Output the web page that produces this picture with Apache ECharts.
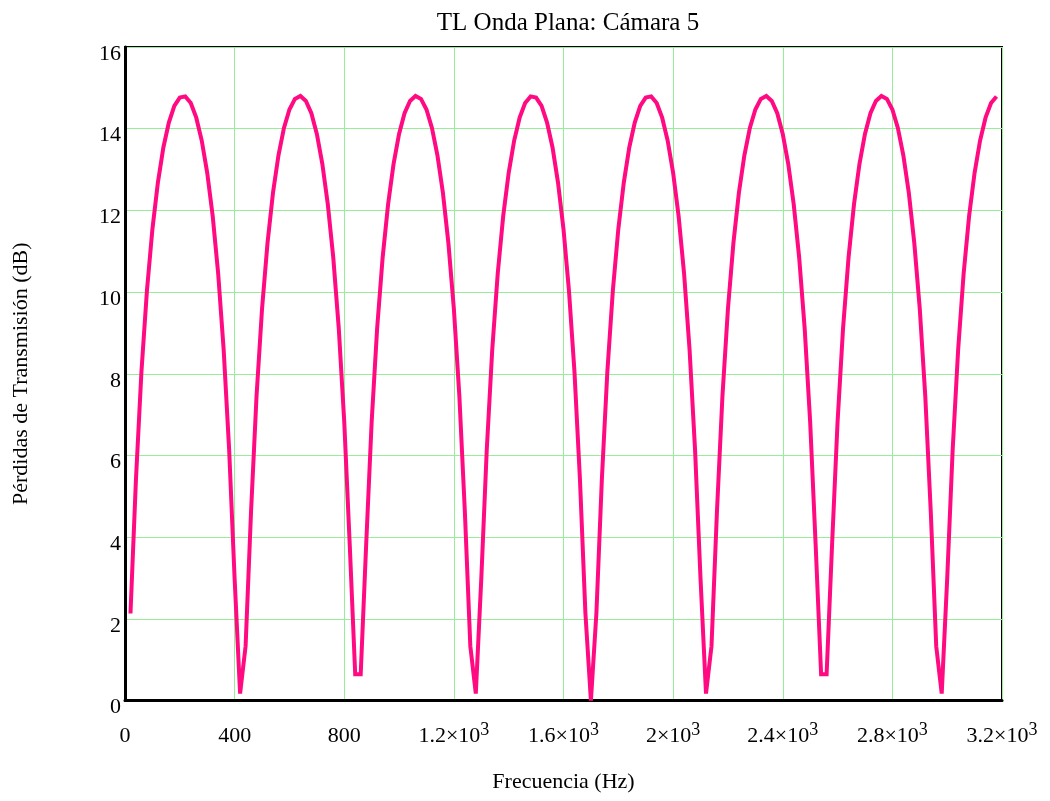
<!DOCTYPE html>
<html><head><meta charset="utf-8">
<script src="https://cdn.jsdelivr.net/npm/echarts@6/dist/echarts.min.js"></script>
<style>html,body{margin:0;padding:0;background:#fff}#c{width:1050px;height:801px}</style>
</head><body><div id="c"></div>
<script>
const chartTitle = 'TL Onda Plana: Cámara 5';
const xName = 'Frecuencia (Hz)';
const yName = 'Pérdidas de Transmisión (dB)';
const xTicks = [0, 400, 800, 1200, 1600, 2000, 2400, 2800, 3200];
const yTicks = [0, 2, 4, 6, 8, 10, 12, 14, 16];
const freqs = [
  20,40,60,80,100,120,140,160,180,200,220,240,260,280,300,320,340,360,380,400,420,
  440,460,480,500,520,540,560,580,600,620,640,660,680,700,720,740,760,780,800,820,840,
  860,880,900,920,940,960,980,1000,1020,1040,1060,1080,1100,1120,1140,1160,1180,1200,1220,1240,1260,
  1280,1300,1320,1340,1360,1380,1400,1420,1440,1460,1480,1500,1520,1540,1560,1580,1600,1620,1640,1660,1680,1700,
  1720,1740,1760,1780,1800,1820,1840,1860,1880,1900,1920,1940,1960,1980,2000,2020,2040,2060,2080,2100,2120,
  2140,2160,2180,2200,2220,2240,2260,2280,2300,2320,2340,2360,2380,2400,2420,2440,2460,2480,2500,2520,2540,
  2560,2580,2600,2620,2640,2660,2680,2700,2720,2740,2760,2780,2800,2820,2840,2860,2880,2900,2920,2940,2960,
  2980,3000,3020,3040,3060,3080,3100,3120,3140,3160,3180
];
const tl = [
  2.13,5.42,8.05,10.03,11.54,12.68,13.54,14.15,14.56,14.76,14.79,14.63,14.27,13.71,12.92,11.86,10.45,8.59,6.14,2.98,0.17,
  1.33,4.64,7.46,9.59,11.20,12.43,13.35,14.02,14.47,14.73,14.80,14.68,14.38,13.87,13.14,12.15,10.84,9.11,6.82,3.82,0.64,
  0.64,3.82,6.82,9.11,10.84,12.15,13.14,13.87,14.38,14.68,14.80,14.73,14.47,14.02,13.35,12.43,11.20,9.59,7.46,4.64,1.33,
  0.17,2.98,6.14,8.59,10.45,11.86,12.92,13.71,14.27,14.63,14.79,14.76,14.56,14.15,13.54,12.68,11.54,10.03,8.05,5.42,2.13,0.00,
  2.13,5.42,8.05,10.03,11.54,12.68,13.54,14.15,14.56,14.76,14.79,14.63,14.27,13.71,12.92,11.86,10.45,8.59,6.14,2.98,0.17,
  1.33,4.64,7.46,9.59,11.20,12.43,13.35,14.02,14.47,14.73,14.80,14.68,14.38,13.87,13.14,12.15,10.84,9.11,6.82,3.82,0.64,
  0.64,3.82,6.82,9.11,10.84,12.15,13.14,13.87,14.38,14.68,14.80,14.73,14.47,14.02,13.35,12.43,11.20,9.59,7.46,4.64,1.33,
  0.17,2.98,6.14,8.59,10.45,11.86,12.92,13.71,14.27,14.63,14.79
];

const FONT = 'Liberation Serif';
const data = freqs.map((f, i) => [f, tl[i]]);

function fmtX(v) {
  if (v < 1000) return '{b|' + v + '}';
  return '{b|' + (v / 1000) + '×10}{s|3}';
}

const chart = echarts.init(document.getElementById('c'), null, {renderer: 'canvas'});
chart.setOption({
  animation: false,
  backgroundColor: '#ffffff',
  title: {
    text: chartTitle,
    left: 563, top: 6, textAlign: 'center',
    textStyle: {fontFamily: FONT, fontSize: 25, fontWeight: 'normal', color: '#000'}
  },
  grid: {
    left: 125, right: 48, top: 47, bottom: 100.5,
    show: true, borderColor: '#000', borderWidth: 2, backgroundColor: 'transparent'
  },
  xAxis: {
    type: 'value', min: xTicks[0], max: xTicks[xTicks.length - 1], interval: 400,
    name: xName, nameLocation: 'middle', nameGap: 71,
    nameTextStyle: {fontFamily: FONT, fontSize: 22, color: '#000'},
    axisLine: {show: true, lineStyle: {color: '#000', width: 3}},
    axisTick: {show: false},
    splitLine: {show: true, lineStyle: {color: '#98ee98', width: 1}},
    axisLabel: {
      interval: 0, showMinLabel: true, showMaxLabel: true, margin: 21,
      formatter: fmtX,
      rich: {
        b: {fontFamily: FONT, fontSize: 22, color: '#000', lineHeight: 30},
        s: {fontFamily: FONT, fontSize: 18, color: '#000', lineHeight: 12, verticalAlign: 'top'}
      }
    }
  },
  yAxis: {
    type: 'value', min: yTicks[0], max: yTicks[yTicks.length - 1], interval: 2,
    name: yName, nameLocation: 'middle', nameGap: 93,
    nameTextStyle: {fontFamily: FONT, fontSize: 22, color: '#000'},
    axisLine: {show: true, lineStyle: {color: '#000', width: 3}},
    axisTick: {show: false},
    splitLine: {show: true, lineStyle: {color: '#98ee98', width: 1}},
    axisLabel: {
      margin: 4, fontFamily: FONT, fontSize: 22, color: '#000',
      verticalAlign: 'top', lineHeight: 14
    }
  },
  series: [{
    type: 'line', data: data, showSymbol: false, symbol: 'none',
    lineStyle: {color: '#ff0a80', width: 4, join: 'miter'},
    z: 5
  }]
});
</script>
</body></html>
